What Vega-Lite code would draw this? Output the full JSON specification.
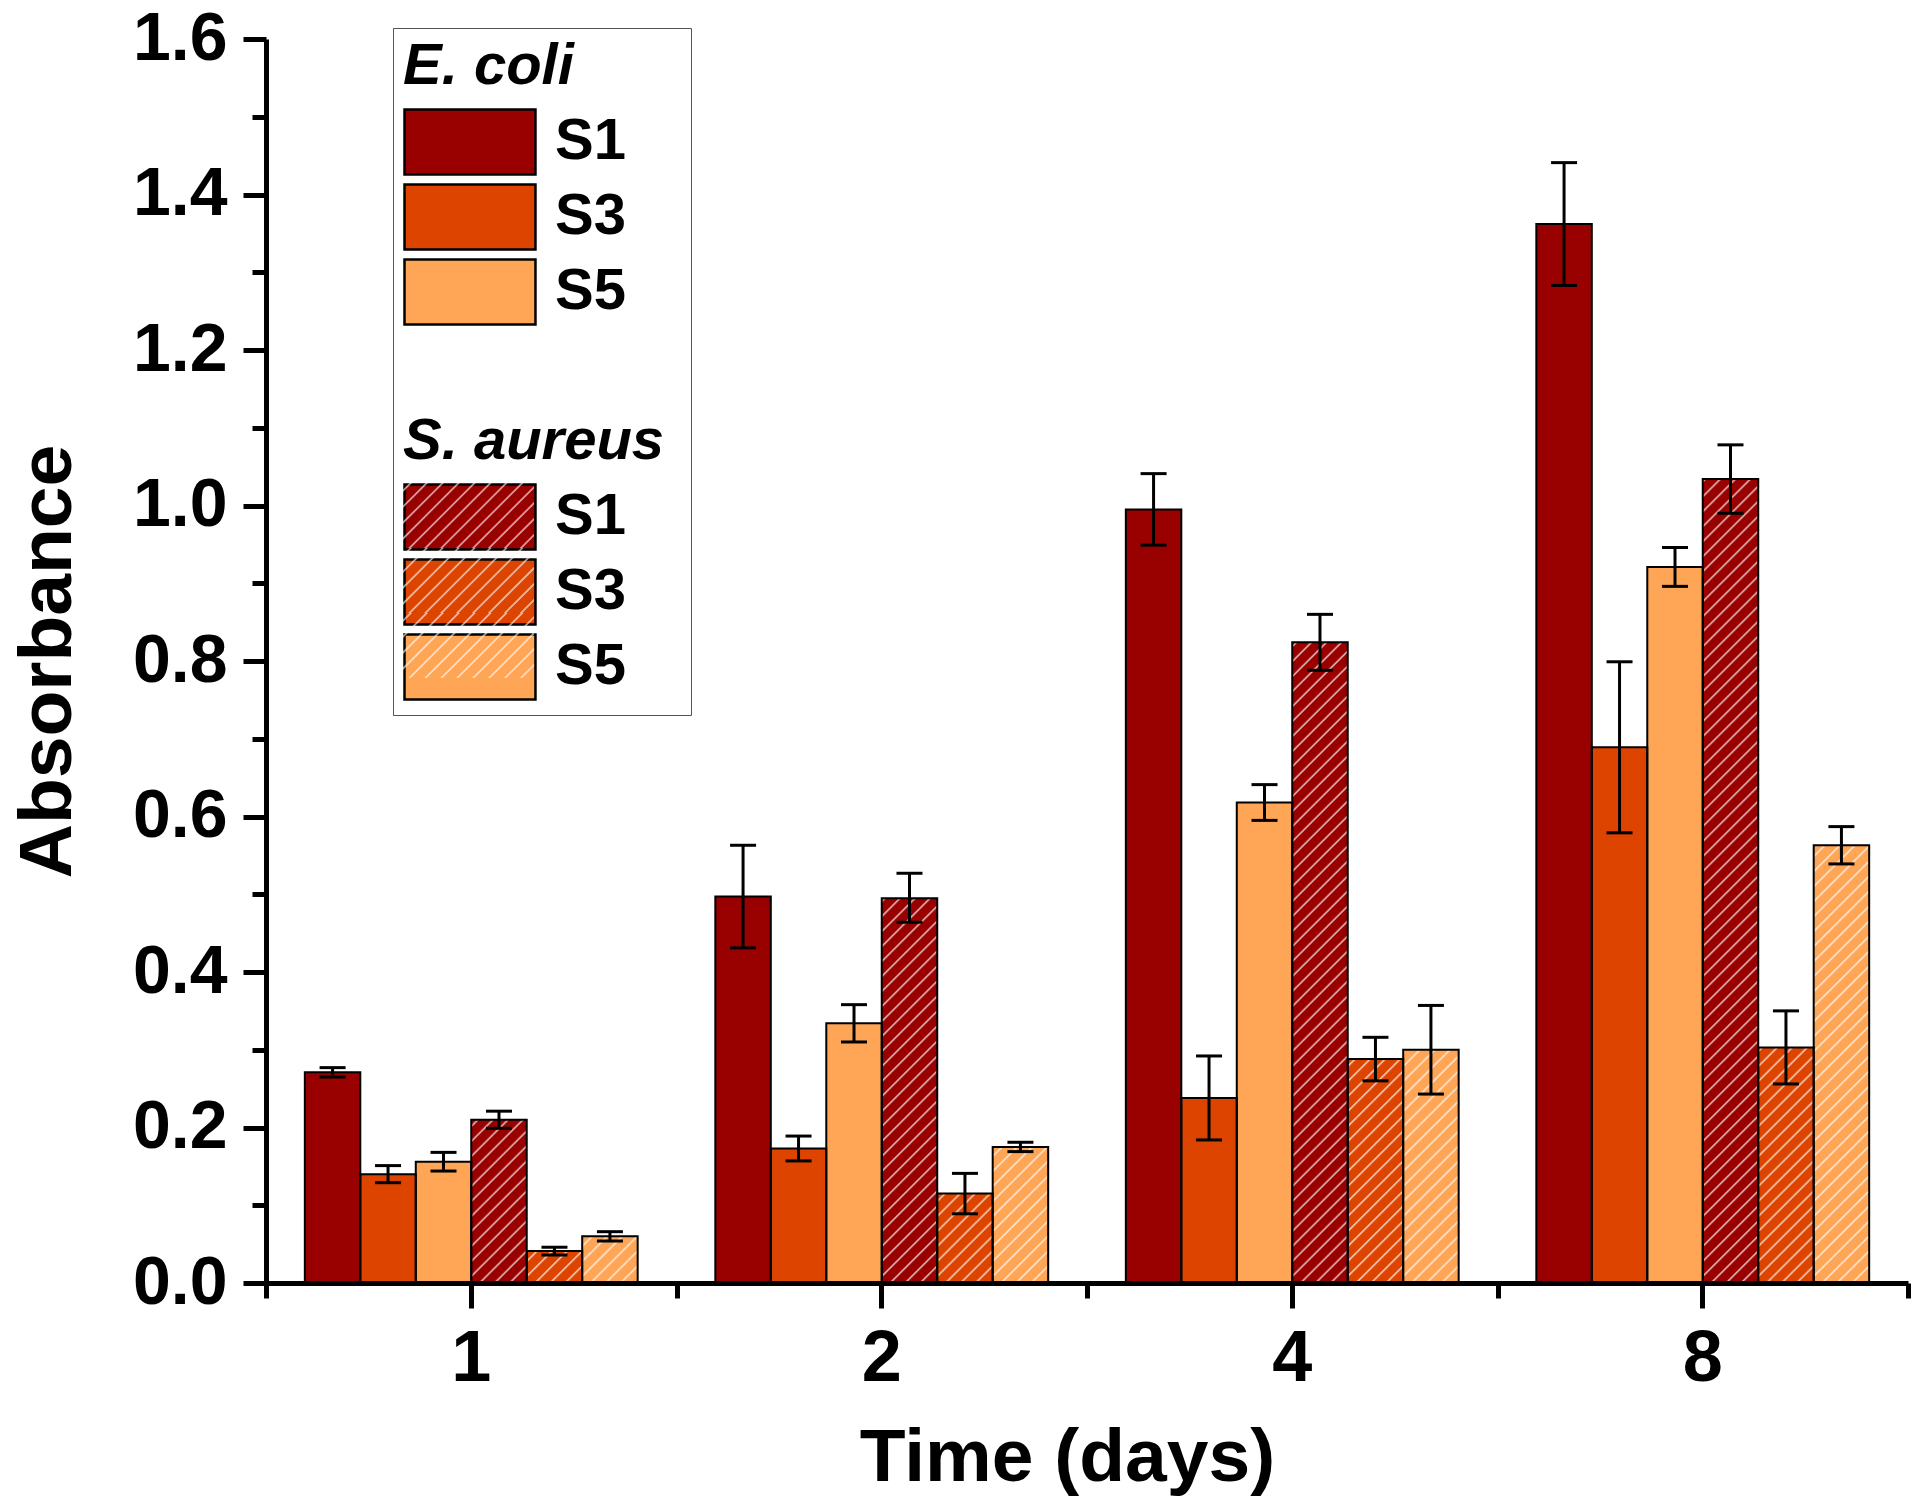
{
  "$schema": "https://vega.github.io/schema/vega-lite/v6.json",
  "width": 1642,
  "height": 1244,
  "autosize": {"type": "none"},
  "padding": {"left": 266, "top": 39, "right": 12, "bottom": 218},
  "background": "white",
  "config": {
    "view": {"stroke": null},
    "axis": {"labelFont": "Liberation Sans", "titleFont": "Liberation Sans", "labelFontWeight": "bold", "titleFontWeight": "bold", "labelColor": "black", "titleColor": "black", "tickColor": "black", "domainColor": "black", "grid": false},
    "legend": {"titleFont": "Liberation Sans", "titleFontSize": 58, "titleFontWeight": "bold", "titleFontStyle": "italic", "titleColor": "black", "titlePadding": 12, "titleLimit": 400, "labelFont": "Liberation Sans", "labelFontWeight": "bold", "labelFontSize": 58, "labelColor": "black", "labelOffset": 84, "labelLimit": 400, "rowPadding": -1, "padding": 10, "symbolType": "M-1,-1H3.03V1H-1Z", "symbolSize": 4225, "symbolStrokeWidth": 2.5, "direction": "vertical", "orient": "none"}
  },
  "data": {
    "values": [
      {"day": "1", "group": "E1", "value": 0.271, "lo": 0.265, "hi": 0.277},
      {"day": "1", "group": "E3", "value": 0.140, "lo": 0.129, "hi": 0.151},
      {"day": "1", "group": "E5", "value": 0.156, "lo": 0.144, "hi": 0.168},
      {"day": "1", "group": "A1", "value": 0.210, "lo": 0.199, "hi": 0.221},
      {"day": "1", "group": "A3", "value": 0.041, "lo": 0.036, "hi": 0.046},
      {"day": "1", "group": "A5", "value": 0.060, "lo": 0.054, "hi": 0.066},
      {"day": "2", "group": "E1", "value": 0.497, "lo": 0.431, "hi": 0.563},
      {"day": "2", "group": "E3", "value": 0.173, "lo": 0.157, "hi": 0.189},
      {"day": "2", "group": "E5", "value": 0.334, "lo": 0.310, "hi": 0.358},
      {"day": "2", "group": "A1", "value": 0.495, "lo": 0.464, "hi": 0.527},
      {"day": "2", "group": "A3", "value": 0.115, "lo": 0.089, "hi": 0.141},
      {"day": "2", "group": "A5", "value": 0.175, "lo": 0.169, "hi": 0.181},
      {"day": "4", "group": "E1", "value": 0.995, "lo": 0.949, "hi": 1.041},
      {"day": "4", "group": "E3", "value": 0.238, "lo": 0.184, "hi": 0.292},
      {"day": "4", "group": "E5", "value": 0.618, "lo": 0.595, "hi": 0.641},
      {"day": "4", "group": "A1", "value": 0.824, "lo": 0.788, "hi": 0.860},
      {"day": "4", "group": "A3", "value": 0.288, "lo": 0.260, "hi": 0.316},
      {"day": "4", "group": "A5", "value": 0.300, "lo": 0.243, "hi": 0.357},
      {"day": "8", "group": "E1", "value": 1.362, "lo": 1.283, "hi": 1.441},
      {"day": "8", "group": "E3", "value": 0.689, "lo": 0.579, "hi": 0.799},
      {"day": "8", "group": "E5", "value": 0.921, "lo": 0.896, "hi": 0.946},
      {"day": "8", "group": "A1", "value": 1.034, "lo": 0.990, "hi": 1.078},
      {"day": "8", "group": "A3", "value": 0.303, "lo": 0.256, "hi": 0.350},
      {"day": "8", "group": "A5", "value": 0.563, "lo": 0.539, "hi": 0.587}
    ]
  },
  "layer": [
    {
      "mark": {"type": "bar"},
      "encoding": {
        "x": {"field": "day", "type": "nominal", "sort": ["1", "2", "4", "8"], "scale": {"paddingInner": 0, "paddingOuter": 0},
          "axis": {"orient": "bottom", "title": "Time (days)", "labelAngle": 0, "tickSize": 25, "tickWidth": 5, "domainWidth": 5, "labelPadding": 15, "labelFontSize": 72, "titleFontSize": 75, "titleX": 801, "titleY": 197, "titleBaseline": "alphabetic", "zindex": 1}},
        "xOffset": {"field": "group", "type": "nominal", "scale": {"domain": ["E1", "E3", "E5", "A1", "A3", "A5"], "paddingInner": 0, "paddingOuter": 0.7}},
        "y": {"field": "value", "type": "quantitative", "scale": {"domain": [0, 1.6], "nice": false},
          "axis": {"orient": "left", "title": "Absorbance", "values": [0, 0.2, 0.4, 0.6, 0.8, 1, 1.2, 1.4, 1.6], "format": ".1f", "tickSize": 23, "tickWidth": 5, "domainWidth": 5, "labelPadding": 16, "labelFontSize": 68, "titleFontSize": 75, "titleX": -196, "titleY": 622, "titleBaseline": "alphabetic", "titleAlign": "center", "zindex": 1}},
        "color": {"field": "group", "type": "nominal", "legend": null,
          "scale": {"domain": ["E1", "E3", "E5", "A1", "A3", "A5"], "range": ["#990000", "#DD4400", "#FFA556", "#990000", "#DD4400", "#FFA556"]}}
      }
    },
    {
      "transform": [{"filter": {"field": "group", "oneOf": ["A1", "A3", "A5"]}}],
      "mark": {"type": "bar", "fill": {"gradient": "linear", "x1": 0, "y1": 0, "x2": 0.0721, "y2": 1.063, "stops": [
        {"offset": 0.0147, "color": "rgba(255,255,255,0)"}, {"offset": 0.0172, "color": "rgba(255,255,255,0.75)"}, {"offset": 0.0197, "color": "rgba(255,255,255,0)"},
        {"offset": 0.0319, "color": "rgba(255,255,255,0)"}, {"offset": 0.0344, "color": "rgba(255,255,255,0.75)"}, {"offset": 0.0369, "color": "rgba(255,255,255,0)"},
        {"offset": 0.0491, "color": "rgba(255,255,255,0)"}, {"offset": 0.0516, "color": "rgba(255,255,255,0.75)"}, {"offset": 0.0541, "color": "rgba(255,255,255,0)"},
        {"offset": 0.0663, "color": "rgba(255,255,255,0)"}, {"offset": 0.0688, "color": "rgba(255,255,255,0.75)"}, {"offset": 0.0713, "color": "rgba(255,255,255,0)"},
        {"offset": 0.0835, "color": "rgba(255,255,255,0)"}, {"offset": 0.086, "color": "rgba(255,255,255,0.75)"}, {"offset": 0.0885, "color": "rgba(255,255,255,0)"},
        {"offset": 0.1007, "color": "rgba(255,255,255,0)"}, {"offset": 0.1032, "color": "rgba(255,255,255,0.75)"}, {"offset": 0.1057, "color": "rgba(255,255,255,0)"},
        {"offset": 0.1179, "color": "rgba(255,255,255,0)"}, {"offset": 0.1204, "color": "rgba(255,255,255,0.75)"}, {"offset": 0.1229, "color": "rgba(255,255,255,0)"},
        {"offset": 0.1351, "color": "rgba(255,255,255,0)"}, {"offset": 0.1376, "color": "rgba(255,255,255,0.75)"}, {"offset": 0.1401, "color": "rgba(255,255,255,0)"},
        {"offset": 0.1523, "color": "rgba(255,255,255,0)"}, {"offset": 0.1548, "color": "rgba(255,255,255,0.75)"}, {"offset": 0.1573, "color": "rgba(255,255,255,0)"},
        {"offset": 0.1695, "color": "rgba(255,255,255,0)"}, {"offset": 0.172, "color": "rgba(255,255,255,0.75)"}, {"offset": 0.1745, "color": "rgba(255,255,255,0)"},
        {"offset": 0.1867, "color": "rgba(255,255,255,0)"}, {"offset": 0.1892, "color": "rgba(255,255,255,0.75)"}, {"offset": 0.1917, "color": "rgba(255,255,255,0)"},
        {"offset": 0.2039, "color": "rgba(255,255,255,0)"}, {"offset": 0.2064, "color": "rgba(255,255,255,0.75)"}, {"offset": 0.2089, "color": "rgba(255,255,255,0)"},
        {"offset": 0.2211, "color": "rgba(255,255,255,0)"}, {"offset": 0.2236, "color": "rgba(255,255,255,0.75)"}, {"offset": 0.2261, "color": "rgba(255,255,255,0)"},
        {"offset": 0.2383, "color": "rgba(255,255,255,0)"}, {"offset": 0.2408, "color": "rgba(255,255,255,0.75)"}, {"offset": 0.2433, "color": "rgba(255,255,255,0)"},
        {"offset": 0.2555, "color": "rgba(255,255,255,0)"}, {"offset": 0.258, "color": "rgba(255,255,255,0.75)"}, {"offset": 0.2605, "color": "rgba(255,255,255,0)"},
        {"offset": 0.2727, "color": "rgba(255,255,255,0)"}, {"offset": 0.2752, "color": "rgba(255,255,255,0.75)"}, {"offset": 0.2777, "color": "rgba(255,255,255,0)"},
        {"offset": 0.2899, "color": "rgba(255,255,255,0)"}, {"offset": 0.2924, "color": "rgba(255,255,255,0.75)"}, {"offset": 0.2949, "color": "rgba(255,255,255,0)"},
        {"offset": 0.3071, "color": "rgba(255,255,255,0)"}, {"offset": 0.3096, "color": "rgba(255,255,255,0.75)"}, {"offset": 0.3121, "color": "rgba(255,255,255,0)"},
        {"offset": 0.3243, "color": "rgba(255,255,255,0)"}, {"offset": 0.3268, "color": "rgba(255,255,255,0.75)"}, {"offset": 0.3293, "color": "rgba(255,255,255,0)"},
        {"offset": 0.3415, "color": "rgba(255,255,255,0)"}, {"offset": 0.344, "color": "rgba(255,255,255,0.75)"}, {"offset": 0.3465, "color": "rgba(255,255,255,0)"},
        {"offset": 0.3587, "color": "rgba(255,255,255,0)"}, {"offset": 0.3612, "color": "rgba(255,255,255,0.75)"}, {"offset": 0.3637, "color": "rgba(255,255,255,0)"},
        {"offset": 0.3759, "color": "rgba(255,255,255,0)"}, {"offset": 0.3784, "color": "rgba(255,255,255,0.75)"}, {"offset": 0.3809, "color": "rgba(255,255,255,0)"},
        {"offset": 0.3931, "color": "rgba(255,255,255,0)"}, {"offset": 0.3956, "color": "rgba(255,255,255,0.75)"}, {"offset": 0.3981, "color": "rgba(255,255,255,0)"},
        {"offset": 0.4103, "color": "rgba(255,255,255,0)"}, {"offset": 0.4128, "color": "rgba(255,255,255,0.75)"}, {"offset": 0.4153, "color": "rgba(255,255,255,0)"},
        {"offset": 0.4275, "color": "rgba(255,255,255,0)"}, {"offset": 0.43, "color": "rgba(255,255,255,0.75)"}, {"offset": 0.4325, "color": "rgba(255,255,255,0)"},
        {"offset": 0.4447, "color": "rgba(255,255,255,0)"}, {"offset": 0.4472, "color": "rgba(255,255,255,0.75)"}, {"offset": 0.4497, "color": "rgba(255,255,255,0)"},
        {"offset": 0.4619, "color": "rgba(255,255,255,0)"}, {"offset": 0.4644, "color": "rgba(255,255,255,0.75)"}, {"offset": 0.4669, "color": "rgba(255,255,255,0)"},
        {"offset": 0.4791, "color": "rgba(255,255,255,0)"}, {"offset": 0.4816, "color": "rgba(255,255,255,0.75)"}, {"offset": 0.4841, "color": "rgba(255,255,255,0)"},
        {"offset": 0.4963, "color": "rgba(255,255,255,0)"}, {"offset": 0.4988, "color": "rgba(255,255,255,0.75)"}, {"offset": 0.5013, "color": "rgba(255,255,255,0)"},
        {"offset": 0.5135, "color": "rgba(255,255,255,0)"}, {"offset": 0.516, "color": "rgba(255,255,255,0.75)"}, {"offset": 0.5185, "color": "rgba(255,255,255,0)"},
        {"offset": 0.5307, "color": "rgba(255,255,255,0)"}, {"offset": 0.5332, "color": "rgba(255,255,255,0.75)"}, {"offset": 0.5357, "color": "rgba(255,255,255,0)"},
        {"offset": 0.5479, "color": "rgba(255,255,255,0)"}, {"offset": 0.5504, "color": "rgba(255,255,255,0.75)"}, {"offset": 0.5529, "color": "rgba(255,255,255,0)"},
        {"offset": 0.5651, "color": "rgba(255,255,255,0)"}, {"offset": 0.5676, "color": "rgba(255,255,255,0.75)"}, {"offset": 0.5701, "color": "rgba(255,255,255,0)"},
        {"offset": 0.5823, "color": "rgba(255,255,255,0)"}, {"offset": 0.5848, "color": "rgba(255,255,255,0.75)"}, {"offset": 0.5873, "color": "rgba(255,255,255,0)"},
        {"offset": 0.5995, "color": "rgba(255,255,255,0)"}, {"offset": 0.602, "color": "rgba(255,255,255,0.75)"}, {"offset": 0.6045, "color": "rgba(255,255,255,0)"},
        {"offset": 0.6167, "color": "rgba(255,255,255,0)"}, {"offset": 0.6192, "color": "rgba(255,255,255,0.75)"}, {"offset": 0.6217, "color": "rgba(255,255,255,0)"},
        {"offset": 0.6339, "color": "rgba(255,255,255,0)"}, {"offset": 0.6364, "color": "rgba(255,255,255,0.75)"}, {"offset": 0.6389, "color": "rgba(255,255,255,0)"},
        {"offset": 0.6511, "color": "rgba(255,255,255,0)"}, {"offset": 0.6536, "color": "rgba(255,255,255,0.75)"}, {"offset": 0.6561, "color": "rgba(255,255,255,0)"},
        {"offset": 0.6683, "color": "rgba(255,255,255,0)"}, {"offset": 0.6708, "color": "rgba(255,255,255,0.75)"}, {"offset": 0.6733, "color": "rgba(255,255,255,0)"},
        {"offset": 0.6855, "color": "rgba(255,255,255,0)"}, {"offset": 0.688, "color": "rgba(255,255,255,0.75)"}, {"offset": 0.6905, "color": "rgba(255,255,255,0)"},
        {"offset": 0.7027, "color": "rgba(255,255,255,0)"}, {"offset": 0.7052, "color": "rgba(255,255,255,0.75)"}, {"offset": 0.7077, "color": "rgba(255,255,255,0)"},
        {"offset": 0.7199, "color": "rgba(255,255,255,0)"}, {"offset": 0.7224, "color": "rgba(255,255,255,0.75)"}, {"offset": 0.7249, "color": "rgba(255,255,255,0)"},
        {"offset": 0.7371, "color": "rgba(255,255,255,0)"}, {"offset": 0.7396, "color": "rgba(255,255,255,0.75)"}, {"offset": 0.7421, "color": "rgba(255,255,255,0)"},
        {"offset": 0.7543, "color": "rgba(255,255,255,0)"}, {"offset": 0.7568, "color": "rgba(255,255,255,0.75)"}, {"offset": 0.7593, "color": "rgba(255,255,255,0)"},
        {"offset": 0.7715, "color": "rgba(255,255,255,0)"}, {"offset": 0.774, "color": "rgba(255,255,255,0.75)"}, {"offset": 0.7765, "color": "rgba(255,255,255,0)"},
        {"offset": 0.7887, "color": "rgba(255,255,255,0)"}, {"offset": 0.7912, "color": "rgba(255,255,255,0.75)"}, {"offset": 0.7937, "color": "rgba(255,255,255,0)"},
        {"offset": 0.8059, "color": "rgba(255,255,255,0)"}, {"offset": 0.8084, "color": "rgba(255,255,255,0.75)"}, {"offset": 0.8109, "color": "rgba(255,255,255,0)"},
        {"offset": 0.8231, "color": "rgba(255,255,255,0)"}, {"offset": 0.8256, "color": "rgba(255,255,255,0.75)"}, {"offset": 0.8281, "color": "rgba(255,255,255,0)"},
        {"offset": 0.8403, "color": "rgba(255,255,255,0)"}, {"offset": 0.8428, "color": "rgba(255,255,255,0.75)"}, {"offset": 0.8453, "color": "rgba(255,255,255,0)"},
        {"offset": 0.8575, "color": "rgba(255,255,255,0)"}, {"offset": 0.86, "color": "rgba(255,255,255,0.75)"}, {"offset": 0.8625, "color": "rgba(255,255,255,0)"},
        {"offset": 0.8747, "color": "rgba(255,255,255,0)"}, {"offset": 0.8772, "color": "rgba(255,255,255,0.75)"}, {"offset": 0.8797, "color": "rgba(255,255,255,0)"},
        {"offset": 0.8919, "color": "rgba(255,255,255,0)"}, {"offset": 0.8944, "color": "rgba(255,255,255,0.75)"}, {"offset": 0.8969, "color": "rgba(255,255,255,0)"},
        {"offset": 0.9091, "color": "rgba(255,255,255,0)"}, {"offset": 0.9116, "color": "rgba(255,255,255,0.75)"}, {"offset": 0.9141, "color": "rgba(255,255,255,0)"},
        {"offset": 0.9263, "color": "rgba(255,255,255,0)"}, {"offset": 0.9288, "color": "rgba(255,255,255,0.75)"}, {"offset": 0.9313, "color": "rgba(255,255,255,0)"},
        {"offset": 0.9435, "color": "rgba(255,255,255,0)"}, {"offset": 0.946, "color": "rgba(255,255,255,0.75)"}, {"offset": 0.9485, "color": "rgba(255,255,255,0)"},
        {"offset": 0.9607, "color": "rgba(255,255,255,0)"}, {"offset": 0.9632, "color": "rgba(255,255,255,0.75)"}, {"offset": 0.9657, "color": "rgba(255,255,255,0)"},
        {"offset": 0.9779, "color": "rgba(255,255,255,0)"}, {"offset": 0.9804, "color": "rgba(255,255,255,0.75)"}, {"offset": 0.9829, "color": "rgba(255,255,255,0)"}
      ]}},
      "encoding": {
        "x": {"field": "day", "type": "nominal", "sort": ["1", "2", "4", "8"], "scale": {"paddingInner": 0, "paddingOuter": 0}, "axis": null},
        "xOffset": {"field": "group", "type": "nominal", "scale": {"domain": ["E1", "E3", "E5", "A1", "A3", "A5"], "paddingInner": 0, "paddingOuter": 0.7}},
        "y": {"datum": 1.05, "type": "quantitative", "scale": {"domain": [0, 1.6], "nice": false}, "axis": null},
        "y2": {"datum": 0}
      }
    },
    {
      "mark": {"type": "bar", "fill": "transparent", "stroke": "black", "strokeWidth": 2},
      "encoding": {
        "x": {"field": "day", "type": "nominal", "sort": ["1", "2", "4", "8"], "scale": {"paddingInner": 0, "paddingOuter": 0},
          "axis": {"orient": "bottom", "tickBand": "extent", "labels": false, "domain": false, "title": null, "tickSize": 15, "tickWidth": 5, "zindex": 1}},
        "xOffset": {"field": "group", "type": "nominal", "scale": {"domain": ["E1", "E3", "E5", "A1", "A3", "A5"], "paddingInner": 0, "paddingOuter": 0.7}},
        "y": {"field": "value", "type": "quantitative", "scale": {"domain": [0, 1.6], "nice": false},
          "axis": {"orient": "left", "values": [0.1, 0.3, 0.5, 0.7, 0.9, 1.1, 1.3, 1.5], "labels": false, "domain": false, "title": null, "tickSize": 14, "tickWidth": 5, "zindex": 1}}
      }
    },
    {
      "mark": {"type": "rule", "stroke": "black", "strokeWidth": 3},
      "encoding": {
        "x": {"field": "day", "type": "nominal", "sort": ["1", "2", "4", "8"], "scale": {"paddingInner": 0, "paddingOuter": 0}, "axis": null},
        "xOffset": {"field": "group", "type": "nominal", "scale": {"domain": ["E1", "E3", "E5", "A1", "A3", "A5"], "paddingInner": 0, "paddingOuter": 0.7}},
        "y": {"field": "lo", "type": "quantitative", "scale": {"domain": [0, 1.6], "nice": false}, "axis": null},
        "y2": {"field": "hi"}
      }
    },
    {
      "mark": {"type": "tick", "color": "black", "opacity": 1, "size": 26, "thickness": 3, "orient": "horizontal"},
      "encoding": {
        "x": {"field": "day", "type": "nominal", "sort": ["1", "2", "4", "8"], "scale": {"paddingInner": 0, "paddingOuter": 0}, "axis": null},
        "xOffset": {"field": "group", "type": "nominal", "scale": {"domain": ["E1", "E3", "E5", "A1", "A3", "A5"], "paddingInner": 0, "paddingOuter": 0.7}},
        "y": {"field": "lo", "type": "quantitative", "scale": {"domain": [0, 1.6], "nice": false}, "axis": null}
      }
    },
    {
      "mark": {"type": "tick", "color": "black", "opacity": 1, "size": 26, "thickness": 3, "orient": "horizontal"},
      "encoding": {
        "x": {"field": "day", "type": "nominal", "sort": ["1", "2", "4", "8"], "scale": {"paddingInner": 0, "paddingOuter": 0}, "axis": null},
        "xOffset": {"field": "group", "type": "nominal", "scale": {"domain": ["E1", "E3", "E5", "A1", "A3", "A5"], "paddingInner": 0, "paddingOuter": 0.7}},
        "y": {"field": "hi", "type": "quantitative", "scale": {"domain": [0, 1.6], "nice": false}, "axis": null}
      }
    },
    {
      "transform": [{"filter": "false"}],
      "mark": {"type": "bar"},
      "encoding": {
        "x": {"field": "day", "type": "nominal", "sort": ["1", "2", "4", "8"], "scale": {"paddingInner": 0, "paddingOuter": 0}, "axis": null},
        "y": {"field": "value", "type": "quantitative", "scale": {"domain": [0, 1.6], "nice": false}, "axis": null},
        "fill": {"field": "group", "type": "nominal",
          "scale": {"domain": ["E1", "E3", "E5", "g1", "g2", "g3", "g4", "g5"], "range": ["#990000", "#DD4400", "#FFA556", "transparent", "transparent", "transparent", "transparent", "transparent"]},
          "legend": {"title": "E. coli", "legendX": 127, "legendY": -11, "fillColor": "white", "strokeColor": "#555555",
            "labelExpr": "datum.value == 'E1' ? 'S1' : datum.value == 'E3' ? 'S3' : datum.value == 'E5' ? 'S5' : datum.value == 'g3' ? '\u2800\u2800\u2800' : ''"}},
        "stroke": {"field": "group", "type": "nominal",
          "scale": {"domain": ["E1", "E3", "E5", "g1", "g2", "g3", "g4", "g5"], "range": ["black", "black", "black", "transparent", "transparent", "transparent", "transparent", "transparent"]},
          "legend": {"title": "E. coli", "legendX": 127, "legendY": -11, "fillColor": "white", "strokeColor": "#555555",
            "labelExpr": "datum.value == 'E1' ? 'S1' : datum.value == 'E3' ? 'S3' : datum.value == 'E5' ? 'S5' : datum.value == 'g3' ? '\u2800\u2800\u2800' : ''"}}
      }
    },
    {
      "transform": [{"filter": "false"}],
      "mark": {"type": "bar"},
      "encoding": {
        "x": {"field": "day", "type": "nominal", "sort": ["1", "2", "4", "8"], "scale": {"paddingInner": 0, "paddingOuter": 0}, "axis": null},
        "y": {"field": "value", "type": "quantitative", "scale": {"domain": [0, 1.6], "nice": false}, "axis": null},
        "fill": {"field": "group", "type": "nominal",
          "scale": {"domain": ["A1", "A3", "A5"], "range": ["#990000", "#DD4400", "#FFA556"]},
          "legend": {"title": "S. aureus", "legendX": 127, "legendY": 364, "symbolStrokeColor": "black",
            "labelExpr": "datum.value == 'A1' ? 'S1' : datum.value == 'A3' ? 'S3' : 'S5'"}}
      }
    },
    {
      "transform": [{"filter": "false"}],
      "mark": {"type": "bar", "fill": "white"},
      "encoding": {
        "x": {"field": "day", "type": "nominal", "sort": ["1", "2", "4", "8"], "scale": {"paddingInner": 0, "paddingOuter": 0}, "axis": null},
        "y": {"field": "value", "type": "quantitative", "scale": {"domain": [0, 1.6], "nice": false}, "axis": null},
        "opacity": {"field": "group", "type": "ordinal",
          "scale": {"domain": ["A1", "A3", "A5"], "range": [0.6, 0.6, 0.6]},
          "legend": {"title": "S. aureus", "titleColor": "transparent", "labelColor": "transparent", "legendX": 127, "legendY": 364,
            "symbolStrokeColor": "transparent", "symbolStrokeWidth": 0, "symbolFillColor": "white",
            "symbolType": "M-1,-0.8L-0.8,-1L-0.72,-1L-1,-0.72Z M-1,-0.31L-0.31,-1L-0.23,-1L-1,-0.23Z M-1,0.18L0.18,-1L0.26,-1L-1,0.26Z M-1,0.67L0.67,-1L0.75,-1L-1,0.75Z M-0.84,1L1.16,-1L1.24,-1L-0.76,1Z M-0.35,1L1.65,-1L1.73,-1L-0.27,1Z M0.14,1L2.14,-1L2.22,-1L0.22,1Z M0.63,1L2.63,-1L2.71,-1L0.71,1Z M1.12,1L3.03,-0.91L3.03,-0.83L1.2,1Z M1.61,1L3.03,-0.42L3.03,-0.34L1.69,1Z M2.1,1L3.03,0.07L3.03,0.15L2.18,1Z M2.59,1L3.03,0.56L3.03,0.64L2.67,1Z",
            "labelExpr": "''"}}
      }
    }
  ],
  "resolve": {
    "scale": {"fill": "independent", "stroke": "independent", "opacity": "independent"},
    "axis": {"x": "independent", "y": "independent"}
  }
}
